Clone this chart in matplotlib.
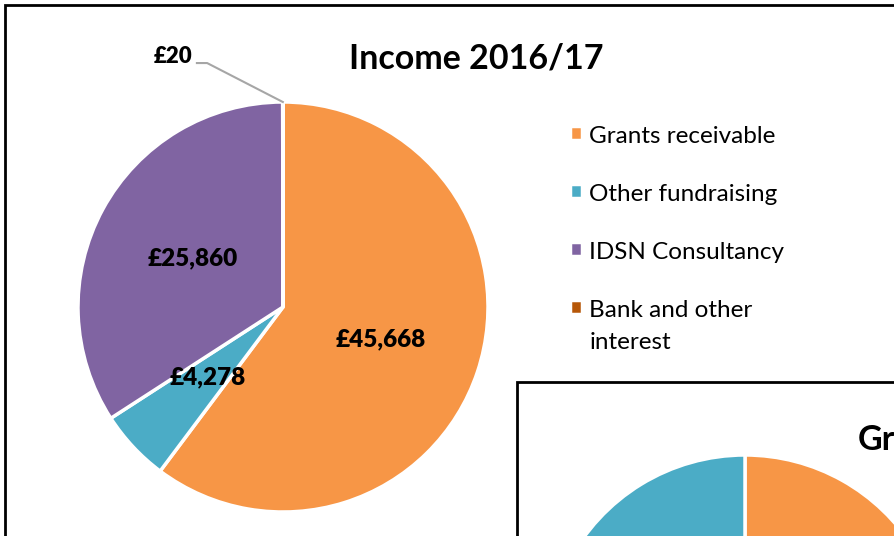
import matplotlib.pyplot as plt
import numpy as np
from matplotlib.patches import Rectangle

# Income 2016/17
categories = ["Grants receivable", "Other fundraising", "IDSN Consultancy", "Bank and other\ninterest"]
income = [45668, 4278, 25860, 20]
value_labels = ["£45,668", "£4,278", "£25,860", "£20"]
colors = ["#F79646", "#4BACC6", "#8064A2", "#B65708"]

# second chart, only its top edge is visible in the picture
second_title = "Grants"
second_values = [65, 35]
second_colors = ["#F79646", "#4BACC6"]

plt.rcParams["font.family"] = ["Lato", "DejaVu Sans"]

W, H = 895, 536
fig = plt.figure(figsize=(W / 100, H / 100), dpi=100)


def px_axes(x0, y0, w, h):
    # pixel box (top-left origin) -> figure axes
    return fig.add_axes([x0 / W, 1 - (y0 + h) / H, w / W, h / H])


# outer chart frame
fig.patches.append(Rectangle((5 / W, -0.1), 1.2, 1 - 5 / H + 0.1, transform=fig.transFigure,
                             facecolor="white", edgecolor="black", linewidth=2, zorder=-1))

fig.text(476 / W, 1 - 58 / H, "Income 2016/17", ha="center", va="center",
         fontsize=24.5, fontweight="bold")

cx, cy, r = 283, 307, 205
ax = px_axes(cx - r, cy - r, 2 * r, 2 * r)
wedges, _ = ax.pie(income, colors=colors, startangle=90, counterclock=False,
                   wedgeprops=dict(edgecolor="white", linewidth=2.5))
ax.set_xlim(-1, 1)
ax.set_ylim(-1, 1)
ax.set_aspect("equal")

for w, lab in zip(wedges[:3], value_labels[:3]):
    ang = np.deg2rad((w.theta1 + w.theta2) / 2)
    ax.text(0.5 * np.cos(ang), 0.5 * np.sin(ang), lab, ha="center", va="center",
            fontsize=17.5, fontweight="heavy")

# small slice: label outside with a leader line
w = wedges[3]
ang = np.deg2rad((w.theta1 + w.theta2) / 2)
tip = (np.cos(ang), np.sin(ang))
ax.plot([tip[0], -0.37, -0.42], [tip[1], 1.19, 1.19], color="#A6A6A6", lw=1.5, clip_on=False)
ax.text(-0.44, 1.22, value_labels[3], ha="right", va="center", fontsize=16, fontweight="heavy")

leg = fig.legend(wedges, categories, loc="upper left", bbox_to_anchor=(548 / W, 1 - 104 / H),
                 frameon=False, fontsize=17.5, handlelength=0.5, handleheight=0.5,
                 handletextpad=0.3, labelspacing=1.52)
leg.get_texts()[3].set_linespacing(1.65)
# square sits next to the first line of a wrapped label
for col in leg._legend_handle_box.get_children():
    for row in col.get_children():
        row.align = "top"

# second chart, overlapping at the bottom right
fig.patches.append(Rectangle((517 / W, -0.1), 1.0, 1 - 382 / H + 0.1, transform=fig.transFigure,
                             facecolor="white", edgecolor="black", linewidth=2, zorder=5))
fig.text(858 / W, 1 - 440 / H, second_title, ha="left", va="center",
         fontsize=24.5, fontweight="bold", zorder=6)
r2 = 199
ax2 = px_axes(745 - r2, 455, 2 * r2, 2 * r2)
ax2.set_zorder(6)
ax2.pie(second_values, colors=second_colors, startangle=90, counterclock=False,
        wedgeprops=dict(edgecolor="white", linewidth=2.5))
ax2.set_xlim(-1, 1)
ax2.set_ylim(-1, 1)
ax2.set_aspect("equal")

fig.savefig("out.png", dpi=100)
